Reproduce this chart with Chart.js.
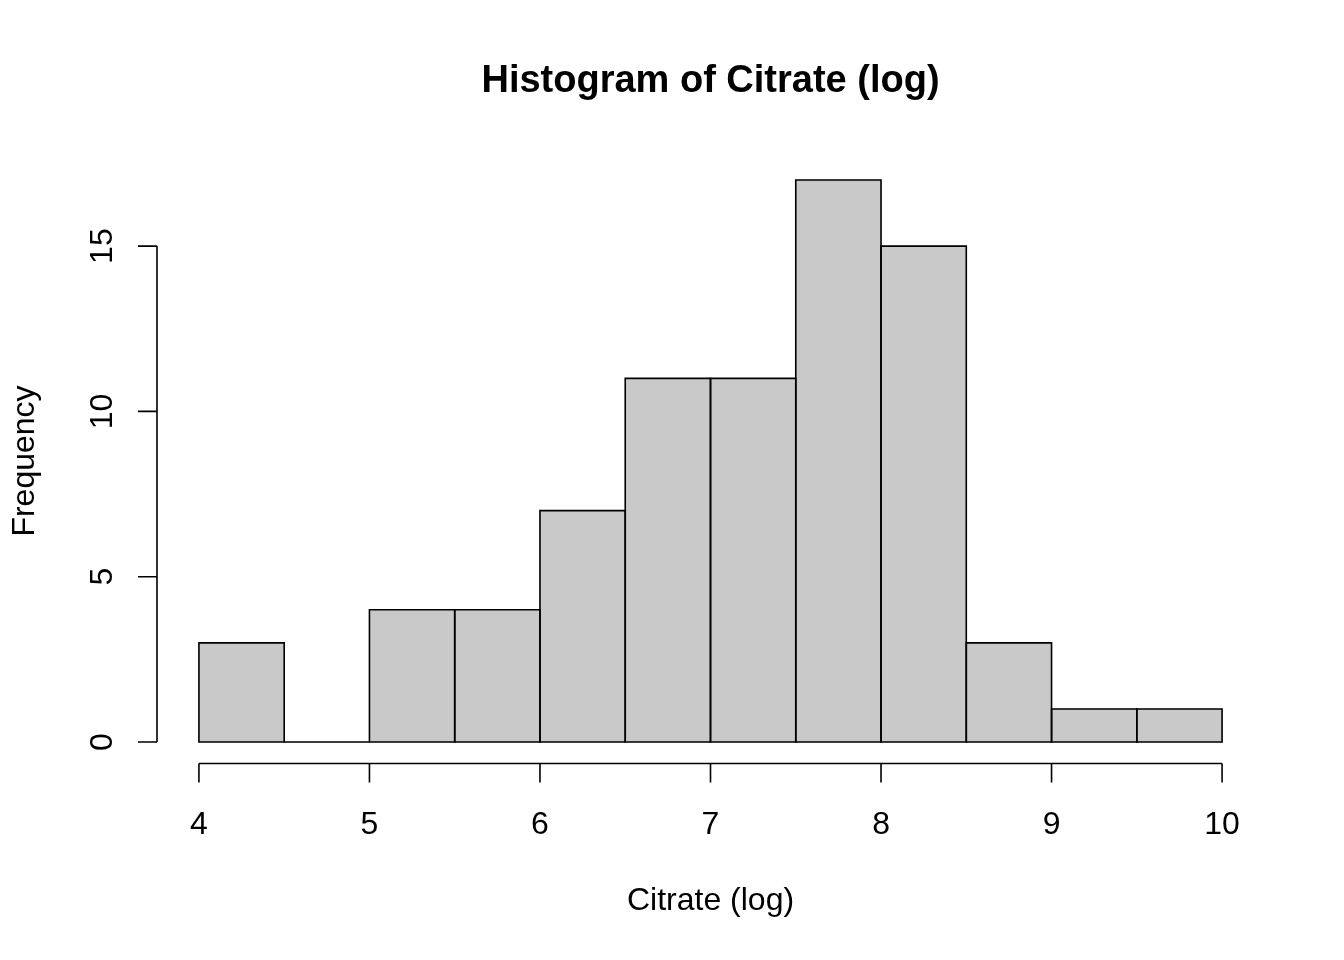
<!DOCTYPE html>
<html>
<head>
<meta charset="utf-8">
<script src="https://cdn.jsdelivr.net/npm/chart.js@4.4.0/dist/chart.umd.min.js"></script>
<style>
  html, body { margin: 0; padding: 0; background: #fff; }
  #wrap { width: 1344px; height: 960px; }
</style>
</head>
<body>
<div id="wrap"><canvas id="histChart" width="1344" height="960"></canvas></div>
<script>
// histogram data: bin breaks and counts
var breaks = [4, 4.5, 5, 5.5, 6, 6.5, 7, 7.5, 8, 8.5, 9, 9.5, 10];
var counts = [3, 0, 4, 4, 7, 11, 11, 17, 15, 3, 1, 1];
var xTicks = [4, 5, 6, 7, 8, 9, 10];
var yTicks = [0, 5, 10, 15];

var titleText = 'Histogram of Citrate (log)';
var xLabel = 'Citrate (log)';
var yLabel = 'Frequency';

var font = '"Liberation Sans", Arial, Helvetica, sans-serif';

// bar centres from the breaks
var points = counts.map(function (c, i) {
    return { x: (breaks[i] + breaks[i + 1]) / 2, y: c };
});

// R-style axes, labels and title, drawn from the chart scales
var rAxes = {
    id: 'rAxes',
    afterDatasetsDraw: function (chart) {
        var ctx = chart.ctx;
        var meta = chart.getDatasetMeta(0);
        ctx.save();
        ctx.strokeStyle = '#000';
        ctx.lineWidth = 1.6;
        // outline each bin (centred on the edge, like R's rect)
        meta.data.forEach(function (bar) {
            var w = bar.width / 2;
            ctx.beginPath();
            ctx.rect(bar.x - w, bar.y, bar.width, bar.base - bar.y);
            ctx.stroke();
        });
        ctx.restore();
    },
    afterDraw: function (chart) {
        var ctx = chart.ctx;
        var xs = chart.scales.x, ys = chart.scales.y;
        var area = chart.chartArea;
        var tick = 19;
        ctx.save();
        ctx.strokeStyle = '#000';
        ctx.fillStyle = '#000';
        ctx.lineWidth = 1.6;

        // x axis
        var ay = area.bottom - 1;
        ctx.beginPath();
        ctx.moveTo(xs.getPixelForValue(xTicks[0]), ay);
        ctx.lineTo(xs.getPixelForValue(xTicks[xTicks.length - 1]), ay);
        xTicks.forEach(function (v) {
            var px = xs.getPixelForValue(v);
            ctx.moveTo(px, ay);
            ctx.lineTo(px, ay + tick);
        });
        ctx.stroke();
        ctx.font = '32px ' + font;
        ctx.textAlign = 'center';
        ctx.textBaseline = 'alphabetic';
        xTicks.forEach(function (v) {
            ctx.fillText(String(v), xs.getPixelForValue(v), 834);
        });

        // y axis
        var ax = area.left - 1;
        ctx.beginPath();
        ctx.moveTo(ax, ys.getPixelForValue(yTicks[0]));
        ctx.lineTo(ax, ys.getPixelForValue(yTicks[yTicks.length - 1]));
        yTicks.forEach(function (v) {
            var py = ys.getPixelForValue(v);
            ctx.moveTo(ax, py);
            ctx.lineTo(ax - tick, py);
        });
        ctx.stroke();
        yTicks.forEach(function (v) {
            ctx.save();
            ctx.translate(112, ys.getPixelForValue(v));
            ctx.rotate(-Math.PI / 2);
            ctx.fillText(String(v), 0, 0);
            ctx.restore();
        });

        var cx = (area.left + area.right) / 2;
        var cy = (area.top + area.bottom) / 2;

        // axis titles
        ctx.fillText(xLabel, cx, 910);
        ctx.save();
        ctx.translate(34, cy);
        ctx.rotate(-Math.PI / 2);
        ctx.fillText(yLabel, 0, 0);
        ctx.restore();

        // main title
        ctx.font = 'bold 38px ' + font;
        ctx.fillText(titleText, cx, 92);
        ctx.restore();
    }
};

var ctx = document.getElementById('histChart').getContext('2d');
var histChart = new Chart(ctx, {
    type: 'bar',
    data: {
        datasets: [{
            data: points,
            backgroundColor: '#c9c9c9',
            borderWidth: 0,
            barPercentage: 1,
            categoryPercentage: 1
        }]
    },
    options: {
        responsive: false,
        animation: false,
        layout: {
            padding: { left: 158, right: 81, top: 157.5, bottom: 195.5 }
        },
        scales: {
            x: { type: 'linear', min: 3.76, max: 10.24, offset: false, display: false },
            y: { min: -0.68, max: 17.68, display: false }
        },
        plugins: {
            legend: { display: false },
            title: { display: false },
            tooltip: { enabled: false }
        }
    },
    plugins: [rAxes]
});
</script>
</body>
</html>
